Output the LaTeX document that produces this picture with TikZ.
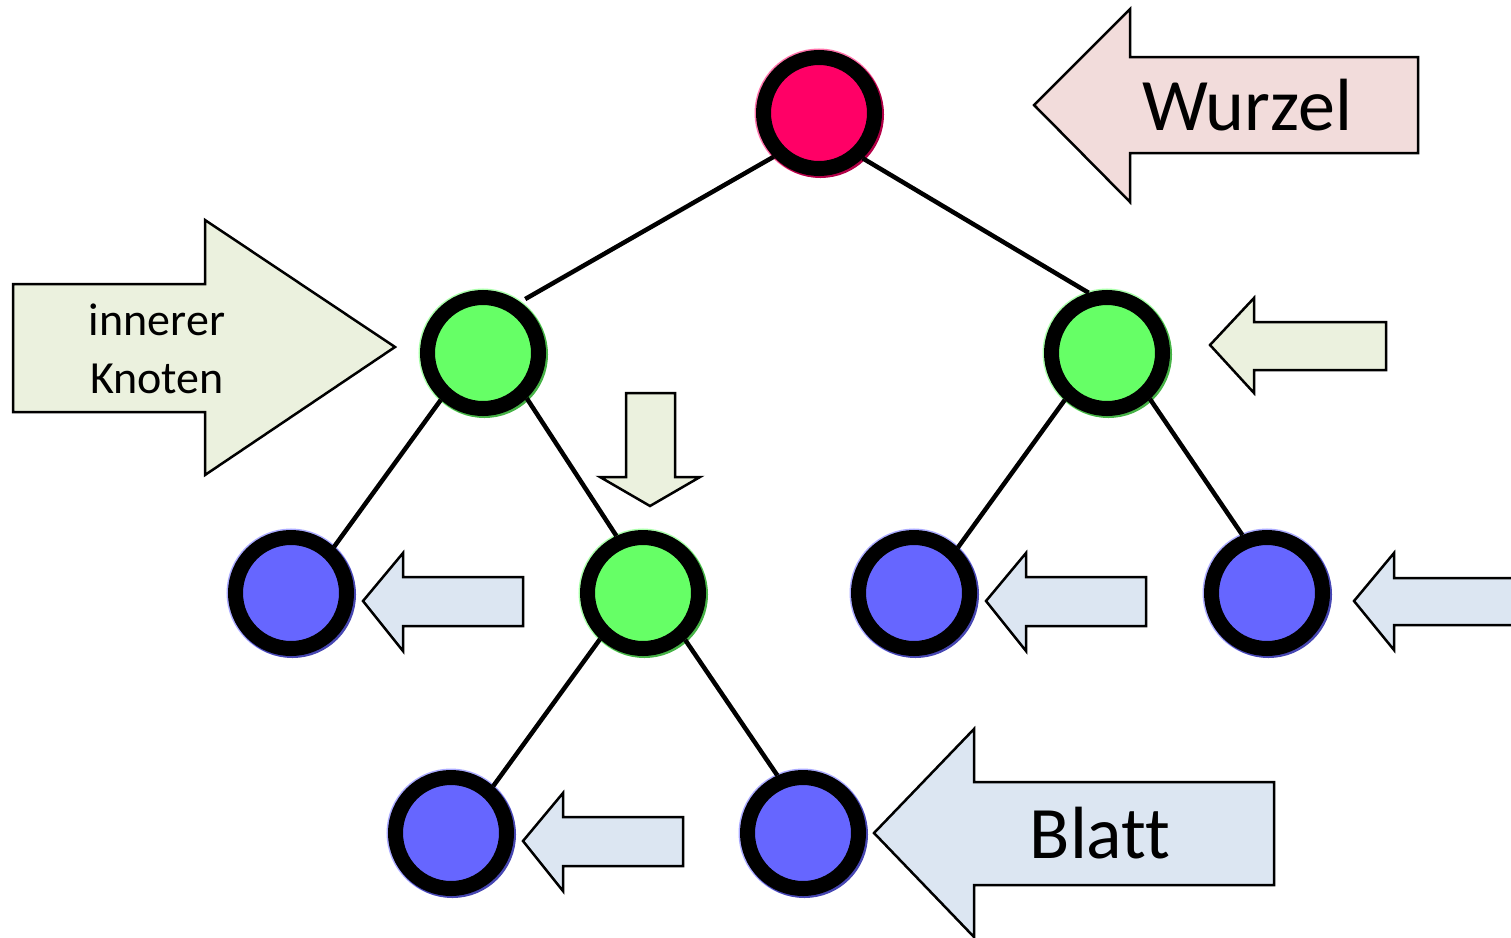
\documentclass[tikz,border=0pt]{standalone}
\usepackage{fontspec}
\setmainfont{Carlito}[Ligatures=NoCommon]
\usepackage{tikz}

\definecolor{wurzelrot}{HTML}{FF0066}
\definecolor{innengruen}{HTML}{66FF66}
\definecolor{blattblau}{HTML}{6666FF}
\definecolor{pfeilrosa}{HTML}{F2DCDB}
\definecolor{pfeilgruen}{HTML}{EBF1DE}
\definecolor{pfeilblau}{HTML}{DCE6F2}

\begin{document}
\begin{tikzpicture}[x=1pt,y=-1pt,
  knoten/.style={circle, draw=black, line width=15pt, minimum size=111pt,
    inner sep=0pt, fill=#1,
    preaction={draw=#1!55!white, line width=18pt},
    preaction={draw=#1!70!black, line width=16pt, transform canvas={shift={(1.5pt,-1.5pt)}}}},
  kante/.style={line width=4.5pt},
  blockpfeil/.style={draw=black, line width=2.5pt, line join=miter}]
  \useasboundingbox (0,0) rectangle (1511,937);
  % Knoten
  \node [knoten=wurzelrot] (wurzel) at (819,113) {};
  \node [knoten=innengruen] (l) at (483,353) {};
  \node [knoten=innengruen] (r) at (1107,353) {};
  \node [knoten=blattblau] (ll) at (291,593) {};
  \node [knoten=innengruen] (lr) at (643,593) {};
  \node [knoten=blattblau] (rl) at (914,593) {};
  \node [knoten=blattblau] (rr) at (1267,593) {};
  \node [knoten=blattblau] (lrl) at (451,833) {};
  \node [knoten=blattblau] (lrr) at (803,833) {};
  % Kanten
  \draw [kante, shorten >=6pt] (wurzel.224) -- (l.54);
  \draw [kante] (wurzel.314) -- (r.107);
  \draw [kante] (l.228) -- (ll.47);
  \draw [kante] (l.314) -- (lr.115);
  \draw [kante] (r.228) -- (rl.46);
  \draw [kante] (r.313) -- (rr.113);
  \draw [kante] (lr.227) -- (lrl.48);
  \draw [kante] (lr.312) -- (lrr.114);
  % Pfeile
  \draw [blockpfeil, fill=pfeilrosa] (1034,105) -- (1130,9) -- (1130,57) -- (1418,57) -- (1418,153) -- (1130,153) -- (1130,202) -- cycle;
  \draw [blockpfeil, fill=pfeilgruen] (395,347) -- (205,220) -- (205,284) -- (13,284) -- (13,412) -- (205,412) -- (205,475) -- cycle;
  \draw [blockpfeil, fill=pfeilgruen] (1210,345) -- (1254,298) -- (1254,322) -- (1386,322) -- (1386,370) -- (1254,370) -- (1254,393) -- cycle;
  \draw [blockpfeil, fill=pfeilgruen] (650,506) -- (600,477) -- (626,477) -- (626,393) -- (675,393) -- (675,477) -- (700,477) -- cycle;
  \draw [blockpfeil, fill=pfeilblau] (363,601) -- (403,553) -- (403,577) -- (523,577) -- (523,626) -- (403,626) -- (403,651) -- cycle;
  \draw [blockpfeil, fill=pfeilblau] (986,601) -- (1026,553) -- (1026,577) -- (1146,577) -- (1146,626) -- (1026,626) -- (1026,651) -- cycle;
  \draw [blockpfeil, fill=pfeilblau] (1354,601) -- (1394,553) -- (1394,578) -- (1530,578) -- (1530,625) -- (1394,625) -- (1394,650) -- cycle;
  \draw [blockpfeil, fill=pfeilblau] (523,841) -- (563,793) -- (563,817) -- (683,817) -- (683,866) -- (563,866) -- (563,891) -- cycle;
  \draw [blockpfeil, fill=pfeilblau] (874,833) -- (974,729) -- (974,782) -- (1274,782) -- (1274,885) -- (974,885) -- (974,937) -- cycle;
  % Beschriftungen
  \node [anchor=base, font=\fontsize{74}{80}\selectfont] (wurzeltext) at (1247,130) {Wurzel};
  \node [anchor=base, font=\fontsize{74}{80}\selectfont] (blatttext) at (1100,858) {Blatt};
  \node [anchor=base, font=\fontsize{46}{56}\selectfont] (innentext1) at (157,335) {innerer};
  \node [anchor=base, font=\fontsize{46}{56}\selectfont] (innentext2) at (157,393) {Knoten};
\end{tikzpicture}
\end{document}
